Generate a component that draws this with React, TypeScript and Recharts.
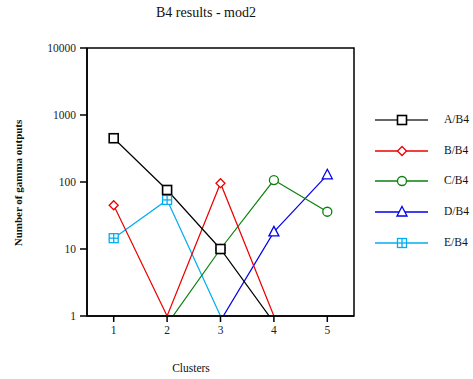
import { LineChart, Line, XAxis, YAxis, ReferenceArea } from 'recharts';

const clusters = [1, 2, 3, 4, 5];
const seriesA = [450, 76, 10, 0.8, null];
const seriesB = [45, 1, 96, 1, null];
const seriesC = [null, 0.75, 10, 107, 36];
const seriesD = [null, null, 0.85, 18, 128];
const seriesE = [14.5, 54, 1, null, null];
const yTicks = [1, 10, 100, 1000, 10000];

type Shape = 'square' | 'diamond' | 'circle' | 'triangle' | 'boxplus';

const series: { key: string; name: string; color: string; shape: Shape; values: (number | null)[] }[] = [
  { key: 'a', name: 'A/B4', color: '#000000', shape: 'square', values: seriesA },
  { key: 'b', name: 'B/B4', color: '#ee0000', shape: 'diamond', values: seriesB },
  { key: 'c', name: 'C/B4', color: '#0a800a', shape: 'circle', values: seriesC },
  { key: 'd', name: 'D/B4', color: '#0000ee', shape: 'triangle', values: seriesD },
  { key: 'e', name: 'E/B4', color: '#00aeef', shape: 'boxplus', values: seriesE },
];

const data = clusters.map((x, i) => {
  const row: Record<string, number | null> = { x };
  series.forEach((s) => {
    row[s.key] = s.values[i];
  });
  return row;
});

const font = '"Liberation Serif", "Times New Roman", serif';

const Marker = ({ shape, cx, cy, color }: { shape: Shape; cx: number; cy: number; color: string }) => {
  const sw = 1.3;
  if (shape === 'square') {
    return <rect x={cx - 4.5} y={cy - 4.5} width={9} height={9} fill="white" stroke={color} strokeWidth={1.6} />;
  }
  if (shape === 'diamond') {
    return (
      <polygon
        points={`${cx},${cy - 4.5} ${cx + 4.5},${cy} ${cx},${cy + 4.5} ${cx - 4.5},${cy}`}
        fill="white"
        stroke={color}
        strokeWidth={sw}
      />
    );
  }
  if (shape === 'circle') {
    return <circle cx={cx} cy={cy} r={4.5} fill="white" stroke={color} strokeWidth={sw} />;
  }
  if (shape === 'triangle') {
    return (
      <polygon
        points={`${cx},${cy - 5.5} ${cx + 5},${cy + 4} ${cx - 5},${cy + 4}`}
        fill="white"
        stroke={color}
        strokeWidth={sw}
      />
    );
  }
  return (
    <g stroke={color} strokeWidth={sw} fill="white">
      <rect x={cx - 4.5} y={cy - 4.5} width={9} height={9} />
      <line x1={cx} y1={cy - 4.5} x2={cx} y2={cy + 4.5} />
      <line x1={cx - 4.5} y1={cy} x2={cx + 4.5} y2={cy} />
    </g>
  );
};

// markers only for points that sit inside the plot (values above 1)
const makeDot = (s: (typeof series)[number]) => (props: any) => {
  const { cx, cy, payload, index } = props;
  const v = payload ? payload[s.key] : null;
  if (v == null || v <= 1 || cx == null || cy == null) return <g key={`${s.key}-${index}`} />;
  return (
    <g key={`${s.key}-${index}`}>
      <Marker shape={s.shape} cx={cx} cy={cy} color={s.color} />
    </g>
  );
};

const legendRows = [120, 151, 181, 212, 243];

export default function App() {
  return (
    <div style={{ position: 'absolute', left: 0, top: 0, width: 473, height: 379, background: 'white', fontFamily: font }}>
      <LineChart width={473} height={379} data={data} margin={{ top: 48, right: 119, left: 47, bottom: 33 }}>
        <XAxis
          dataKey="x"
          type="number"
          domain={[0.5, 5.5]}
          ticks={clusters}
          allowDataOverflow
          height={30}
          stroke="#000"
          strokeWidth={1.5}
          tickSize={6}
          tickMargin={4}
          tick={{ fontSize: 11.5, fill: '#222', fontFamily: font }}
        />
        <YAxis
          type="number"
          scale="log"
          domain={[1, 10000]}
          ticks={yTicks}
          allowDataOverflow
          width={40}
          stroke="#000"
          strokeWidth={1.5}
          tickSize={7}
          tickMargin={4}
          tick={{ fontSize: 11.5, fill: '#222', fontFamily: font }}
        />
        <ReferenceArea x1={0.5} x2={5.5} y1={1} y2={10000} fill="none" stroke="#000" strokeWidth={1.5} ifOverflow="visible" />
        {[...series].reverse().map((s) => (
          <Line
            key={s.key}
            type="linear"
            dataKey={s.key}
            name={s.name}
            stroke={s.color}
            strokeWidth={1.2}
            dot={makeDot(s)}
            activeDot={false}
            isAnimationActive={false}
          />
        ))}
      </LineChart>
      <div style={{ position: 'absolute', left: 0, width: 412, top: 5, textAlign: 'center', fontSize: 14, color: '#111' }}>
        B4 results - mod2
      </div>
      <div style={{ position: 'absolute', left: 0, width: 382, top: 362, textAlign: 'center', fontSize: 11.5, color: '#111' }}>
        Clusters
      </div>
      <svg style={{ position: 'absolute', left: 0, top: 0 }} width={473} height={379}>
        <text
          x={19}
          y={183}
          transform="rotate(-90 19 183)"
          textAnchor="middle"
          dominantBaseline="middle"
          fontFamily={font}
          fontSize={11}
          fontWeight="bold"
          fill="#111"
        >
          Number of gamma outputs
        </text>
        {series.map((s, i) => (
          <g key={s.key}>
            <line
              x1={375}
              y1={legendRows[i]}
              x2={428}
              y2={legendRows[i]}
              stroke={s.key === 'a' ? '#333' : s.color}
              strokeWidth={1.5}
            />
            <Marker shape={s.shape} cx={402} cy={legendRows[i]} color={s.color} />
            <text x={444} y={legendRows[i]} dominantBaseline="middle" fontFamily={font} fontSize={11.5} fill="#111">
              {s.name}
            </text>
          </g>
        ))}
      </svg>
    </div>
  );
}
